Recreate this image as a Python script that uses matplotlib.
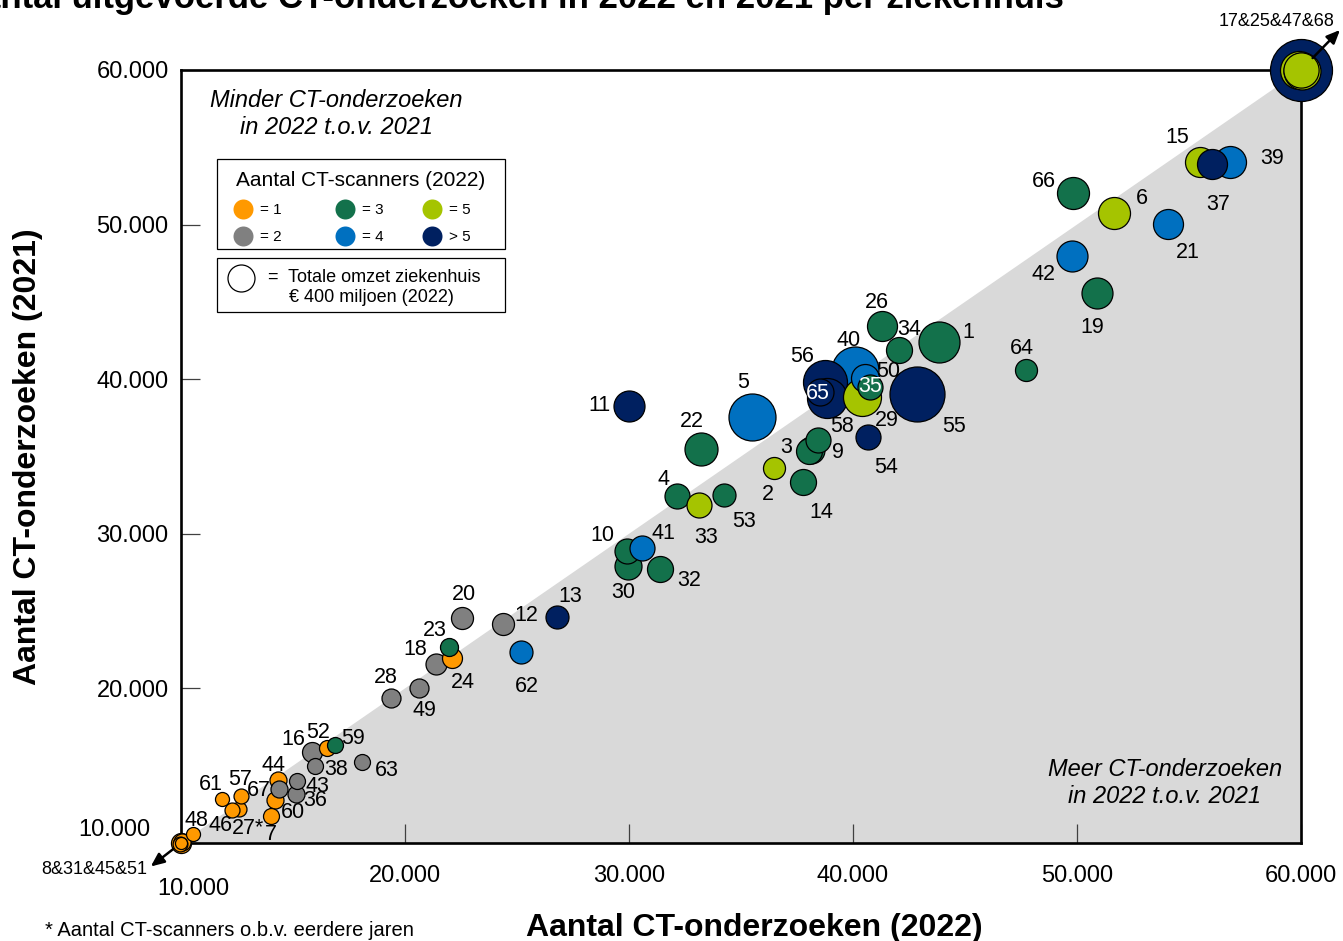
import numpy as np
import matplotlib.pyplot as plt
from matplotlib.patches import Rectangle, Polygon
from matplotlib.lines import Line2D

plt.rcParams['font.family'] = ['Liberation Sans', 'DejaVu Sans']

# Data: hospital id, CT exams 2022, CT exams 2021, revenue 2022 (EUR mln), CT scanners (6 = >5)
ids = ['1', '2', '3', '4', '5', '6', '7', '8&31&45&51', '', '', '', '9', '10', '11', '12', '13',
       '14', '15', '16', '17&25&47&68', '', '', '', '18', '19', '20', '21', '22', '23', '24',
       '26', '27*', '28', '29', '30', '32', '33', '34', '35', '36', '37', '38', '39', '40',
       '41', '42', '43', '44', '46', '48', '49', '50', '52', '53', '54', '55', '56', '56b',
       '57', '58', '59', '60', '61', '62', '63', '64', '65', '66', '67']
ct_2022 = [43840, 36470, 38050, 32140, 35490, 51650, 14020, 10000, 10050, 9950, 10020, 38130, 29910,
           30000, 24380, 26790, 37770, 55490, 15850, 60000, 59900, 60050, 60000, 21380, 50890, 22550,
           54060, 33210, 21960, 22100, 41300, 12590, 19380, 40400, 29950, 31380, 33130, 42050, 40760,
           15130, 56030, 15980, 56830, 40090, 30580, 49780, 15180, 14330, 12280, 10540, 20630, 40540,
           16520, 34240, 40670, 42860, 38750, 38840, 12680, 38440, 16880, 14200, 11830, 25180, 18080,
           47720, 38530, 49820, 14380]
ct_2021 = [42410, 34260, 35350, 32450, 37560, 50750, 11750, 10000, 10050, 9950, 10000, 35420, 28890,
           38270, 24170, 24620, 33350, 54050, 15890, 60000, 60000, 59950, 60000, 21580, 45580, 24550,
           50040, 35490, 22680, 21970, 43440, 12200, 19380, 38850, 27920, 27720, 31860, 41890, 39500,
           13170, 53920, 14980, 54050, 40600, 29080, 47970, 14010, 14080, 12140, 10580, 20030, 40080,
           16150, 32510, 36260, 39040, 39820, 38780, 13040, 36070, 16340, 12780, 12850, 22350, 15240,
           40600, 39170, 52040, 13490]
revenue = [922, 266, 370, 343, 1212, 562, 140, 220, 160, 120, 80, 400, 343, 527, 266, 290, 371, 494,
           219, 2109, 792, 751, 680, 242, 527, 266, 494, 598, 178, 219, 494, 123, 198, 792, 400, 371,
           343, 371, 343, 159, 494, 140, 562, 1212, 343, 527, 140, 159, 123, 108, 198, 430, 140, 290,
           343, 1660, 1062, 878, 123, 343, 140, 159, 108, 290, 140, 266, 400, 562, 159]
scanners = [3, 5, 3, 3, 4, 5, 1, 1, 1, 1, 1, 3, 3, 6, 2, 6, 3, 5, 2, 6, 5, 5, 5, 2, 3, 2, 4, 3, 3, 1,
            3, 1, 2, 5, 3, 3, 5, 3, 3, 2, 6, 2, 4, 4, 4, 4, 2, 1, 1, 1, 2, 4, 1, 3, 6, 6, 6, 6, 1, 3,
            3, 1, 1, 4, 2, 3, 6, 3, 2]

colors = {1: '#FF9900', 2: '#808080', 3: '#13714B', 4: '#0070C0', 5: '#A5C400', 6: '#002060'}
legend_text = {1: '= 1', 2: '= 2', 3: '= 3', 4: '= 4', 5: '= 5', 6: '> 5'}

# label offsets in pixels (dx right, dy down) from bubble centre
label_off = {
    '1': (29, -9), '2': (-6, 27), '3': (-23, -4), '4': (-13, -16), '5': (-9, -34), '6': (28, -15),
    '7': (0, 19), '9': (27, 2), '10': (-25, -15), '11': (-30, 0), '12': (23, -8), '13': (13, -20),
    '14': (18, 30), '15': (-23, -24), '16': (-19, -12), '18': (-21, -14), '19': (-5, 35),
    '20': (2, -24), '21': (20, 29), '22': (-9, -27), '23': (-14, -16), '24': (11, 25),
    '26': (-5, -24), '27*': (9, 20), '28': (-5, -20), '29': (25, 24), '30': (-5, 27),
    '32': (29, 11), '33': (7, 32), '34': (10, -20), '35': (0, 0), '36': (19, 7), '37': (6, 41),
    '38': (21, 3), '39': (42, -3), '40': (-6, -29), '41': (21, -15), '42': (-29, 19),
    '43': (20, 5), '44': (-4, -14), '46': (-12, 16), '48': (3, -14), '49': (5, 23), '50': (23, -6),
    '52': (-9, -15), '53': (20, 27), '54': (18, 30), '55': (37, 32), '56': (-23, -25),
    '57': (-1, -17), '58': (24, -13), '59': (18, -6), '60': (18, 12), '61': (-11, -14),
    '62': (6, 34), '63': (25, 9), '64': (-4, -21), '65': (-2, 1), '66': (-29, -12), '67': (-20, 1),
}
white_labels = ['35', '65']

W, H = 1343, 941
fig = plt.figure(figsize=(W / 100, H / 100), dpi=100)
ax = fig.add_axes([181 / W, 1 - 843 / H, 1120 / W, 773 / H])
ax.set_xlim(10000, 60000)
ax.set_ylim(10000, 60000)

# grey triangle below the diagonal
ax.add_patch(Polygon([(10000, 10000), (60000, 60000), (60000, 10000)], closed=True,
                     facecolor='#D9D9D9', edgecolor='none', zorder=0))

px2pt = 0.72
diam = 27 * np.sqrt(np.array(revenue) / 400.0)  # pixels, 400 mln = 27 px
order = np.argsort(-np.array(revenue), kind='stable')
for i in order:
    ax.scatter(ct_2022[i], ct_2021[i], s=(diam[i] * px2pt) ** 2, color=colors[scanners[i]],
               edgecolors='black', linewidths=0.9, zorder=3, clip_on=False)

for i, lab in enumerate(ids):
    if lab in label_off:
        dx, dy = label_off[lab]
        ax.annotate(lab.replace('56b', ''), (ct_2022[i], ct_2021[i]), xytext=(dx * px2pt, -dy * px2pt),
                    textcoords='offset points', ha='center', va='center', fontsize=15.5,
                    color='white' if lab in white_labels else 'black', zorder=5,
                    annotation_clip=False)

# group arrows
ax.annotate('', xy=(8650, 8480), xytext=(10000, 10000),
            arrowprops=dict(arrowstyle='-|>,head_length=0.8,head_width=0.35', color='black',
                            lw=1.8, shrinkA=7, shrinkB=0), annotation_clip=False, zorder=6)
ax.annotate('8&31&45&51', (10000, 10000), xytext=(-34 * px2pt, -26 * px2pt),
            textcoords='offset points', ha='right', va='center', fontsize=13, annotation_clip=False)
ax.annotate('', xy=(61740, 62590), xytext=(60000, 60000),
            arrowprops=dict(arrowstyle='-|>,head_length=0.8,head_width=0.35', color='black',
                            lw=1.8, shrinkA=12, shrinkB=0), annotation_clip=False, zorder=6)
ax.annotate('17&25&47&68', (60000, 60000), xytext=(-24 * px2pt, 48 * px2pt),
            textcoords='offset points', ha='center', va='center', fontsize=13, annotation_clip=False)

# axes styling
for sp in ax.spines.values():
    sp.set_linewidth(1.9)
    sp.set_zorder(2)
ticks = [20000, 30000, 40000, 50000, 60000]
ax.set_xticks([10000] + ticks)
ax.set_yticks([10000] + ticks)
ax.set_xticklabels([''] + ['20.000', '30.000', '40.000', '50.000', '60.000'])
ax.set_yticklabels([''] + ['20.000', '30.000', '40.000', '50.000', '60.000'])
ax.tick_params(direction='in', length=13.5, width=0.9, color='#404040', labelsize=17)
ax.tick_params(axis='x', pad=16)
ax.tick_params(axis='y', pad=9)
ax.text(193 / W, 1 - 889 / H, '10.000', transform=fig.transFigure, ha='center', va='center', fontsize=17)
ax.text(150 / W, 1 - 830 / H, '10.000', transform=fig.transFigure, ha='right', va='center', fontsize=17)

fig.text(754 / W, 1 - 928 / H, 'Aantal CT-onderzoeken (2022)', ha='center', va='center',
         fontsize=23, fontweight='bold')
fig.text(28 / W, 1 - 457 / H, 'Aantal CT-onderzoeken (2021)', ha='center', va='center',
         fontsize=23, fontweight='bold', rotation=90)
fig.text(510 / W, 1 - 8 / H, 'Aantal uitgevoerde CT-onderzoeken in 2022 en 2021 per ziekenhuis',
         ha='center', va='baseline', fontsize=25, fontweight='bold')
fig.text(45 / W, 1 - 930 / H, '* Aantal CT-scanners o.b.v. eerdere jaren', ha='left', va='center',
         fontsize=14.5)

fig.text(336 / W, 1 - 114 / H, 'Minder CT-onderzoeken\nin 2022 t.o.v. 2021', ha='center', va='center',
         fontsize=17, style='italic', linespacing=1.2)
fig.text(1165 / W, 1 - 783 / H, 'Meer CT-onderzoeken\nin 2022 t.o.v. 2021', ha='center', va='center',
         fontsize=17, style='italic', linespacing=1.2)

# legend boxes
fig.add_artist(Rectangle((217 / W, 1 - 249 / H), 288 / W, 90 / H, transform=fig.transFigure,
                         facecolor='white', edgecolor='black', lw=0.9, zorder=7))
fig.add_artist(Rectangle((217 / W, 1 - 312 / H), 288 / W, 54 / H, transform=fig.transFigure,
                         facecolor='white', edgecolor='black', lw=0.9, zorder=7))
fig.text(361 / W, 1 - 180 / H, 'Aantal CT-scanners (2022)', ha='center', va='center', fontsize=15,
         zorder=8)
leg_pos = {1: (243, 209), 3: (345, 209), 5: (432, 209), 2: (243, 236), 4: (345, 236), 6: (432, 236)}
for k, (lx, ly) in leg_pos.items():
    fig.add_artist(Line2D([lx / W], [1 - ly / H], marker='o', markersize=20 * px2pt, color=colors[k],
                          markeredgewidth=0, transform=fig.transFigure, zorder=8))
    fig.text((lx + 17) / W, 1 - (ly + 1) / H, legend_text[k], ha='left', va='center', fontsize=11,
             zorder=8)
fig.add_artist(Line2D([241 / W], [1 - 278 / H], marker='o', markersize=27 * px2pt, color='white',
                      markeredgecolor='black', markeredgewidth=0.9, transform=fig.transFigure, zorder=8))
fig.text(268 / W, 1 - 278 / H, '=  Totale omzet ziekenhuis', ha='left', va='center', fontsize=13, zorder=8)
fig.text(289 / W, 1 - 298 / H, '€ 400 miljoen (2022)', ha='left', va='center', fontsize=13, zorder=8)

fig.savefig('out.png', dpi=100)
